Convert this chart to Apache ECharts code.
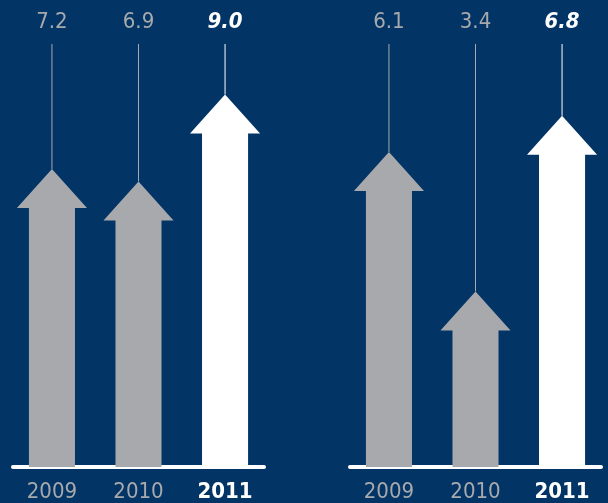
<!DOCTYPE html>
<html><head><meta charset="utf-8">
<script src="https://cdn.jsdelivr.net/npm/echarts@6/dist/echarts.min.js"></script>
<style>html,body{margin:0;padding:0;background:#023466;}#c{width:608px;height:503px;}</style>
</head><body><div id="c"></div>
<script>
const categories = ['2009', '2010', '2011'];
const leftValues = [7.2, 6.9, 9.0];
const rightValues = [6.1, 3.4, 6.8];
const leftLabels = ['7.2', '6.9', '9.0'];
const rightLabels = ['6.1', '3.4', '6.8'];

const FONT = "'Liberation Sans Narrow', 'DejaVu Sans Condensed', 'Roboto Condensed', sans-serif";
const GREY = '#a7a9ac';
const HL = 2; // highlighted index

function makeRender(labels) {
  return function (params, api) {
    const i = api.value(0);
    const tip = api.coord([i, api.value(1)]);
    const base = api.coord([i, 0]);
    const unit = api.size([1, 0])[0];
    const sh = unit * 0.266, hh = unit * 0.405, hH = 39;
    const x = tip[0];
    const color = i === HL ? '#ffffff' : GREY;
    const top = params.coordSys.y;
    return {
      type: 'group',
      children: [
        { type: 'polygon', shape: { points: [
            [x - sh, base[1]], [x - sh, tip[1] + hH], [x - hh, tip[1] + hH], [x, tip[1]],
            [x + hh, tip[1] + hH], [x + sh, tip[1] + hH], [x + sh, base[1]] ] },
          style: { fill: color } },
        { type: 'line', shape: { x1: x, y1: top, x2: x, y2: tip[1] },
          style: { stroke: i === HL ? '#ffffff' : GREY, lineWidth: 1 } },
        { type: 'text', x: x, y: top - 22,
          style: { text: labels[i], fill: color, align: 'center', verticalAlign: 'middle',
            font: (i === HL ? 'italic bold ' : '') + '22px ' + FONT } }
      ]
    };
  };
}

function xAxisDef(gi) {
  return {
    type: 'value', gridIndex: gi, min: -0.45, max: 2.45,
    splitLine: { show: false }, axisTick: { show: false },
    axisLine: { show: true, onZero: false, lineStyle: { color: '#ffffff', width: 4 } },
    axisLabel: {
      customValues: [0, 1, 2], margin: 14,
      formatter: v => {
        const k = Math.round(v);
        return k === HL ? '{b|' + categories[k] + '}' : '{n|' + categories[k] + '}';
      },
      rich: {
        n: { color: GREY, fontSize: 22, fontFamily: FONT },
        b: { color: '#ffffff', fontSize: 22, fontWeight: 'bold', fontFamily: FONT }
      }
    }
  };
}
function yAxisDef(gi, max) {
  return { type: 'value', gridIndex: gi, min: 0, max: max, show: false, splitLine: { show: false } };
}

const chart = echarts.init(document.getElementById('c'));
chart.setOption({
  backgroundColor: '#023466',
  animation: false,
  grid: [
    { left: 13, width: 251, top: 44, bottom: 33 },
    { left: 350, width: 251, top: 44, bottom: 33 }
  ],
  xAxis: [xAxisDef(0), xAxisDef(1)],
  yAxis: [yAxisDef(0, 10.22), yAxisDef(1, 8.19)],
  series: [
    { type: 'custom', xAxisIndex: 0, yAxisIndex: 0, renderItem: makeRender(leftLabels),
      data: leftValues.map((v, i) => [i, v]), z: 1 },
    { type: 'custom', xAxisIndex: 1, yAxisIndex: 1, renderItem: makeRender(rightLabels),
      data: rightValues.map((v, i) => [i, v]), z: 1 }
  ]
});
</script>
</body></html>
